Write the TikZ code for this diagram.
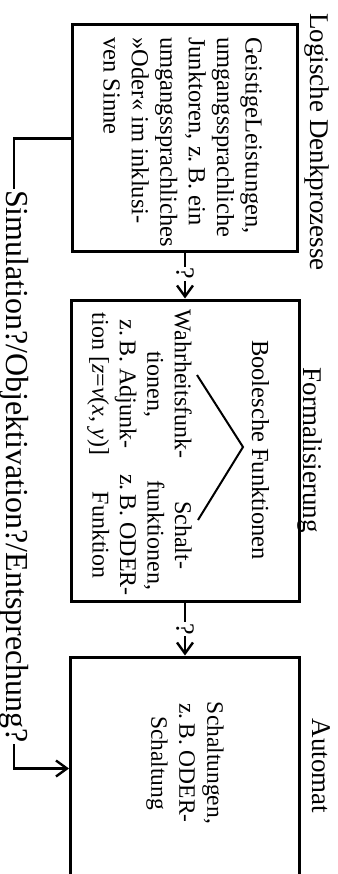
\documentclass[tikz,border=0pt]{standalone}
\usepackage{fontspec}
\setmainfont{Liberation Serif}
\usetikzlibrary{arrows.meta}

\tikzset{
  box/.style={draw, line width=3pt, inner sep=0pt},
  boxtext/.style={font=\fontsize{24.5}{28.4}\selectfont, inner sep=0pt},
  title/.style={font=\fontsize{27}{30}\selectfont, inner sep=0pt, anchor=base},
  conn/.style={line width=2.4pt, -{Straight Barb[length=11pt,width=16pt,line width=2.4pt]}},
  qmark/.style={fill=white, inner sep=1pt, font=\fontsize{26}{28}\selectfont},
}

\begin{document}
\begin{tikzpicture}[x=1pt, y=1pt, rotate=-90, transform shape]

\useasboundingbox (0,0) rectangle (874,337);
\clip (0,0) rectangle (874,337);

\node[box, minimum width=227pt, minimum height=225pt] (denk) at (138.5,185) {};
\node[box, minimum width=301pt, minimum height=228pt] (form) at (450.5,185) {};
\node[box, minimum width=223pt, minimum height=229pt] (auto) at (768.5,185) {};

\node[title] (tdenk) at (142,310) {Logische Denkprozesse};
\node[title] (tform) at (450,303) {Formalisierung};
\node[title] (tauto) at (766,312) {Automat};

\node[boxtext, align=left, anchor=north west] (geist) at (37,262) {GeistigeLeistungen,\\umgangssprachliche\\Junktoren, z.\,B. ein\\umgangssprachliches\\»Oder« im inklusi-\\ven Sinne};

\node[boxtext, anchor=base] (bool) at (450,252) {Boolesche Funktionen};
\node[boxtext, align=center, anchor=north, font=\fontsize{24}{27.5}\selectfont] (wahr) at (384,192) {Wahrheitsfunk-\\tionen,\\z.\,B. Adjunk-\\tion [\textit{z}=\textit{v}(\textit{x}, \textit{y})]};
\node[boxtext, align=center, anchor=north, font=\fontsize{24}{27.5}\selectfont] (schalt) at (535,192) {Schalt-\\funktionen,\\z.\,B. ODER-\\Funktion};

\coordinate (vl) at (375,197);
\coordinate (vtip) at (447,243);
\coordinate (vr) at (520,198);
\draw[line width=2pt] (vl) -- (vtip) -- (vr);

\node[boxtext, align=center, anchor=north, font=\fontsize{23.5}{28}\selectfont] (schaltg) at (763,224) {Schaltungen,\\z.\,B. ODER-\\Schaltung};

\node[font=\fontsize{32}{36}\selectfont, inner sep=1pt] (sim) at (466.5,14) {Simulation?/Objektivation?/Entsprechung?};

% Verbindungen
\draw[conn] (denk) -- node[qmark, pos=0.45] {?} (form);
\draw[conn] (form) -- node[qmark] {?} (auto);
\draw[line width=2.4pt] (denk.south) |- (sim.west);
\draw[conn] (sim.east) -| (auto.south);

\end{tikzpicture}
\end{document}
